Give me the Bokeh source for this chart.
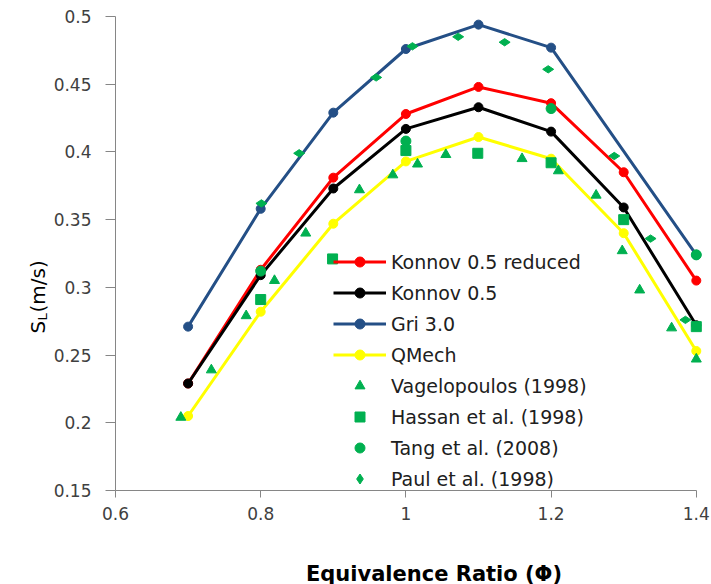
import math
from bokeh.plotting import figure
from bokeh.models import FixedTicker, Label, Range1d, Legend
from bokeh.embed import file_html
from bokeh.resources import INLINE

# ---- data ----
phi_model = [0.7, 0.8, 0.9, 1.0, 1.1, 1.2, 1.3, 1.4]
konnov_reduced = [0.229, 0.313, 0.381, 0.428, 0.448, 0.436, 0.385, 0.305]
konnov = [0.229, 0.309, 0.373, 0.417, 0.433, 0.415, 0.359, 0.272]
qmech = [0.205, 0.282, 0.347, 0.393, 0.411, 0.395, 0.340, 0.253]

phi_gri = [0.7, 0.8, 0.9, 1.0, 1.1, 1.2, 1.4]
gri = [0.271, 0.358, 0.429, 0.476, 0.494, 0.477, 0.324]

phi_vagel = [0.69, 0.732, 0.78, 0.819, 0.862, 0.936, 0.982, 1.016, 1.055, 1.16,
             1.21, 1.262, 1.298, 1.322, 1.366, 1.40]
sl_vagel = [0.204, 0.239, 0.279, 0.305, 0.340, 0.372, 0.383, 0.391, 0.398, 0.395,
            0.386, 0.368, 0.327, 0.298, 0.270, 0.247]

phi_hassan = [0.8, 0.899, 1.0, 1.099, 1.2, 1.3, 1.4]
sl_hassan = [0.291, 0.321, 0.401, 0.399, 0.392, 0.350, 0.271]

phi_tang = [0.8, 1.0, 1.2, 1.4]
sl_tang = [0.312, 0.408, 0.432, 0.324]

phi_paul = [0.801, 0.853, 0.959, 1.009, 1.072, 1.136, 1.196, 1.287, 1.337, 1.385]
sl_paul = [0.362, 0.399, 0.455, 0.478, 0.485, 0.481, 0.461, 0.397, 0.336, 0.276]

x_ticks = [0.6, 0.8, 1.0, 1.2, 1.4]
x_tick_labels = ["0.6", "0.8", "1", "1.2", "1.4"]
y_ticks = [0.15, 0.2, 0.25, 0.3, 0.35, 0.4, 0.45, 0.5]
y_tick_labels = ["0.15", "0.2", "0.25", "0.3", "0.35", "0.4", "0.45", "0.5"]

x_title = "Equivalence Ratio (Φ)"

# ---- layout / style ----
W, H = 711, 584
FONT = "DejaVu Sans"
GREEN = "#00B050"
TICK_COLOR = "#404040"
AXIS_COLOR = "#868686"

# frame covers the whole canvas; axes are drawn at fixed locations inside it
AX_LEFT_PX, AX_BOTTOM_PX, AX_TOP_PX = 115, 490, 16
PX_PER_X = 726.0
PX_PER_Y = (AX_BOTTOM_PX - AX_TOP_PX) / (y_ticks[-1] - y_ticks[0])
x0 = x_ticks[0] - AX_LEFT_PX / PX_PER_X
x1 = x0 + W / PX_PER_X
y_top = y_ticks[-1] + AX_TOP_PX / PX_PER_Y
y_bot = y_top - H / PX_PER_Y


def sx_to_x(sx):
    return x0 + sx / PX_PER_X


def sy_to_y(sy):
    return y_top - sy / PX_PER_Y


p = figure(width=W, height=H, output_backend="svg", toolbar_location=None,
           x_range=Range1d(x0, x1), y_range=Range1d(y_bot, y_top),
           min_border=0, min_border_left=0, min_border_right=0,
           min_border_top=0, min_border_bottom=0)
p.outline_line_color = None
p.xgrid.grid_line_color = None
p.ygrid.grid_line_color = None
p.background_fill_color = "white"
p.border_fill_color = "white"

for ax in (p.xaxis[0], p.yaxis[0]):
    ax.axis_line_color = AXIS_COLOR
    ax.major_tick_line_color = AXIS_COLOR
    ax.minor_tick_line_color = None
    ax.major_tick_in = 0
    ax.major_label_text_color = TICK_COLOR
    ax.major_label_text_font = FONT
    ax.major_label_text_font_size = "17px"

p.xaxis.ticker = FixedTicker(ticks=x_ticks)
p.xaxis.major_label_overrides = {t: l for t, l in zip(x_ticks, x_tick_labels)}
p.xaxis.major_tick_out = 7
p.xaxis.major_label_standoff = 9
p.xaxis.bounds = (x_ticks[0], x_ticks[-1])
p.xaxis.fixed_location = y_ticks[0]

p.yaxis.ticker = FixedTicker(ticks=y_ticks)
p.yaxis.major_label_overrides = {t: l for t, l in zip(y_ticks, y_tick_labels)}
p.yaxis.major_tick_out = 10
p.yaxis.major_label_standoff = 14
p.yaxis.bounds = (y_ticks[0], y_ticks[-1])
p.yaxis.fixed_location = x_ticks[0]

items = []


def line_series(xs, ys, color, label):
    r1 = p.line(xs, ys, line_color=color, line_width=3)
    r2 = p.scatter(xs, ys, marker="circle", size=9, fill_color=color, line_color=color)
    items.append((label, [r1, r2]))


line_series(phi_model, konnov_reduced, "#FF0000", "Konnov 0.5 reduced")
line_series(phi_model, konnov, "#000000", "Konnov 0.5")
line_series(phi_gri, gri, "#244F86", "Gri 3.0")
line_series(phi_model, qmech, "#FFFF00", "QMech")

r = p.scatter(phi_vagel, sl_vagel, marker="triangle", size=10, fill_color=GREEN, line_color=GREEN)
items.append(("Vagelopoulos (1998)", [r]))
r = p.scatter(phi_hassan, sl_hassan, marker="square", size=10, fill_color=GREEN, line_color=GREEN)
items.append(("Hassan et al. (1998)", [r]))
r = p.scatter(phi_tang, sl_tang, marker="circle", size=10, fill_color=GREEN, line_color=GREEN)
items.append(("Tang et al. (2008)", [r]))
r = p.scatter(phi_paul, sl_paul, marker="diamond", size=11, angle=math.pi / 2,
              fill_color=GREEN, line_color=GREEN)
items.append(("Paul et al. (1998)", [r]))

legend = Legend(items=items, location=(333, 93), padding=0, margin=0,
                glyph_width=53, glyph_height=25, label_height=25, spacing=6,
                label_standoff=5, border_line_color=None, background_fill_alpha=0,
                label_text_font=FONT, label_text_font_size="19px",
                label_text_color="#202020")
p.add_layout(legend, "center")

# axis titles
p.add_layout(Label(x=sx_to_x(433.5), y=sy_to_y(573), text=x_title, text_align="center",
                   text_baseline="middle", text_font=FONT, text_font_size="21px",
                   text_font_style="bold", text_color="#000000"))

p.add_layout(Label(x=sx_to_x(37), y=sy_to_y(333), text="S", angle=math.pi / 2,
                   text_align="left", text_baseline="alphabetic", text_font=FONT,
                   text_font_size="20px", text_color="#000000"))
p.add_layout(Label(x=sx_to_x(42), y=sy_to_y(320), text="L", angle=math.pi / 2,
                   text_align="left", text_baseline="alphabetic", text_font=FONT,
                   text_font_size="13px", text_color="#000000"))
p.add_layout(Label(x=sx_to_x(37), y=sy_to_y(312), text="(m/s)", angle=math.pi / 2,
                   text_align="left", text_baseline="alphabetic", text_font=FONT,
                   text_font_size="20px", text_color="#000000"))

open("out.html", "w").write(file_html(p, INLINE))
